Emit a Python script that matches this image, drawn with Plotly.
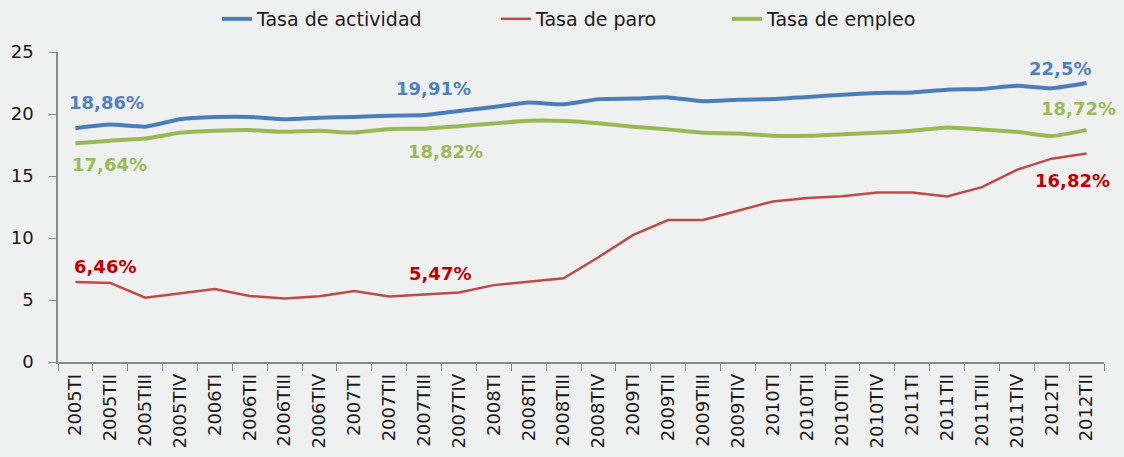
import plotly.graph_objects as go

categories = ["2005TI", "2005TII", "2005TIII", "2005TIV",
              "2006TI", "2006TII", "2006TIII", "2006TIV",
              "2007TI", "2007TII", "2007TIII", "2007TIV",
              "2008TI", "2008TII", "2008TIII", "2008TIV",
              "2009TI", "2009TII", "2009TIII", "2009TIV",
              "2010TI", "2010TII", "2010TIII", "2010TIV",
              "2011TI", "2011TII", "2011TIII", "2011TIV",
              "2012TI", "2012TII"]

tasa_actividad = [18.86, 19.15, 18.98, 19.57, 19.75, 19.76, 19.57, 19.70, 19.76, 19.86,
                  19.91, 20.25, 20.57, 20.92, 20.78, 21.20, 21.24, 21.34, 21.02, 21.15,
                  21.20, 21.38, 21.55, 21.70, 21.74, 21.96, 22.02, 22.28, 22.08, 22.50]

tasa_paro = [6.46, 6.38, 5.19, 5.57, 5.89, 5.32, 5.13, 5.30, 5.73, 5.29,
             5.47, 5.60, 6.20, 6.48, 6.75, 8.45, 10.25, 11.45, 11.45, 12.20,
             12.95, 13.22, 13.36, 13.66, 13.66, 13.35, 14.10, 15.50, 16.40, 16.82]

tasa_empleo = [17.64, 17.85, 18.02, 18.48, 18.64, 18.70, 18.56, 18.64, 18.50, 18.80,
               18.82, 19.02, 19.24, 19.45, 19.44, 19.26, 18.98, 18.76, 18.48, 18.43,
               18.25, 18.24, 18.37, 18.48, 18.64, 18.92, 18.76, 18.56, 18.22, 18.72]

series_names = ["Tasa de actividad", "Tasa de paro", "Tasa de empleo"]

# indices of the points that carry a data label
label_idx = [0, 10, 29]

FONT = "DejaVu Sans"
BLUE, RED, GREEN = "#4A7EBB", "#BE4B48", "#98B954"
BLUE_T, RED_T, GREEN_T = "#4F81BD", "#C00000", "#9BBB59"
BG = "#EFF0F0"
AX = "#8a8a8a"
TXT = "#1a1a1a"

fig = go.Figure()
fig.add_trace(go.Scatter(x=categories, y=tasa_actividad, name=series_names[0], mode="lines",
                         legend="legend",
                         line=dict(color=BLUE, width=4, shape="spline", smoothing=0.5)))
fig.add_trace(go.Scatter(x=categories, y=tasa_paro, name=series_names[1], mode="lines",
                         legend="legend2",
                         line=dict(color=RED, width=2.5)))
fig.add_trace(go.Scatter(x=categories, y=tasa_empleo, name=series_names[2], mode="lines",
                         legend="legend3",
                         line=dict(color=GREEN, width=4, shape="spline", smoothing=0.5)))


def fmt(v):
    s = ("%.2f" % v).rstrip("0").rstrip(".")
    return s.replace(".", ",") + "%"


# label offsets in px relative to the labelled point
offs = {
    "act": [(31, 26), (9, 27), (-27, 15)],
    "paro": [(30, 15), (16, 21), (-14, -27)],
    "emp": [(34, -21), (21, -23), (-8, 21)],
}
for key, data, col in [("act", tasa_actividad, BLUE_T), ("paro", tasa_paro, RED_T),
                       ("emp", tasa_empleo, GREEN_T)]:
    for (dx, dy), i in zip(offs[key], label_idx):
        fig.add_annotation(x=categories[i], y=data[i], text="<b>" + fmt(data[i]) + "</b>",
                           showarrow=False, xshift=dx, yshift=dy,
                           font=dict(family=FONT, size=18, color=col))

leg_common = dict(orientation="h", xref="container", xanchor="left",
                  y=1.0, yref="container", yanchor="top",
                  font=dict(family=FONT, size=19, color=TXT), bgcolor="rgba(0,0,0,0)")

fig.update_layout(
    width=1124, height=457,
    margin=dict(l=58, r=20, t=52, b=95, autoexpand=False),
    paper_bgcolor=BG, plot_bgcolor=BG,
    font=dict(family=FONT, color=TXT),
    showlegend=True,
    legend=dict(x=217 / 1124, **leg_common),
    legend2=dict(x=496 / 1124, **leg_common),
    legend3=dict(x=727 / 1124, **leg_common),
    xaxis=dict(type="category", tickangle=-90, tickson="boundaries", ticks="outside",
               ticklen=7, tickcolor=AX, showline=True, linecolor=AX,
               linewidth=1.5, showgrid=False, ticklabelstandoff=3, automargin=False,
               tickfont=dict(size=18, family=FONT, color=TXT),
               range=[-0.5, len(categories) - 0.5]),
    yaxis=dict(range=[0, 25], dtick=5, ticks="outside", ticklen=7, tickcolor=AX,
               showline=True, linecolor=AX, linewidth=1.5, showgrid=False,
               zeroline=False, ticklabelstandoff=12, automargin=False,
               tickfont=dict(size=18, family=FONT, color=TXT)),
)

fig.write_html("out.html", config={"displayModeBar": False},
               post_script="document.body.style.margin='0';")
